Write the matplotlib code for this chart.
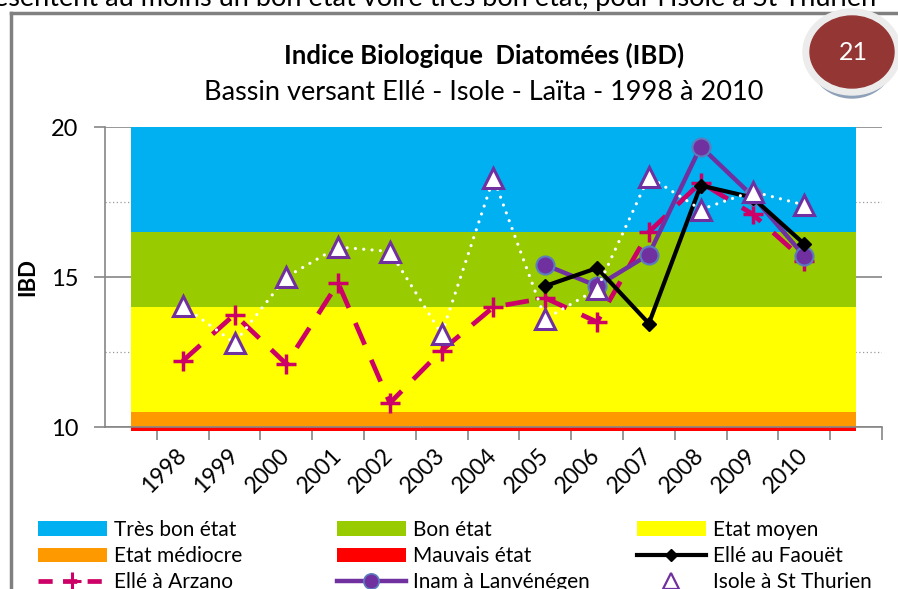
import matplotlib
matplotlib.use("Agg")
import matplotlib.pyplot as plt
from matplotlib.patches import Patch, Ellipse
from matplotlib.lines import Line2D
import numpy as np

plt.rcParams['font.family'] = ['Lato', 'DejaVu Sans']

# ---- data ----
years = ['1998', '1999', '2000', '2001', '2002', '2003', '2004',
         '2005', '2006', '2007', '2008', '2009', '2010']
faouet_years = ['2005', '2006', '2007', '2008', '2009', '2010']
faouet = [14.7, 15.3, 13.45, 18.05, 17.65, 16.1]
arzano = [12.2, 13.75, 12.1, 14.8, 10.8, 12.55, 14.0, 14.3, 13.5, 16.5, 18.15, 17.1, 15.55]
inam_years = ['2005', '2006', '2007', '2008', '2009', '2010']
inam = [15.4, 14.7, 15.75, 19.35, 17.7, 15.7]
isole = [14.05, 12.8, 15.0, 16.0, 15.85, 13.1, 18.3, 13.6, 14.6, 18.35, 17.25, 17.85, 17.4]

band_labels = ['Très bon état', 'Bon état', 'Etat moyen', 'Etat médiocre', 'Mauvais état']
band_low = [16.5, 14.0, 10.5, 10.0, 9.88]
band_high = [20.0, 16.5, 14.0, 10.5, 10.0]
band_colors = ['#00B0F0', '#99CC00', '#FFFF00', '#FF9900', '#FF0000']

title = 'Indice Biologique  Diatomées (IBD)'
subtitle = 'Bassin versant Ellé - Isole - Laïta - 1998 à 2010'
top_text = "ésentent au moins un bon état voire très bon état, pour l'Isole à St Thurien"

W, H = 898, 589
fig = plt.figure(figsize=(W / 100, H / 100), dpi=100)

def fx(px):
    return px / W

def fy(py):
    return 1 - py / H

ax = fig.add_axes([fx(105), fy(427), fx(882) - fx(105), fy(127) - fy(427)])
ax.set_xlim(-1.5, 13.5)
ax.set_ylim(10, 20)

idx = {y: i for i, y in enumerate(years)}
x_all = np.array([idx[y] for y in years])
x_f = np.array([idx[y] for y in faouet_years])
x_i = np.array([idx[y] for y in inam_years])

# bands
for lo, hi, c in zip(band_low, band_high, band_colors):
    ax.fill_between([-1, 13], [lo, lo], [hi, hi], color=c, lw=0, zorder=1, clip_on=False)

# grid
ax.set_axisbelow(True)
ax.set_yticks([10, 15, 20])
ax.set_yticks([12.5, 17.5], minor=True)
ax.grid(axis='y', which='major', color='#868686', lw=1.2, ls='-')
ax.grid(axis='y', which='minor', color='#9a9a9a', lw=0.9, ls=(0, (1, 2)))
ax.tick_params(axis='y', which='major', length=8, width=1.2, color='#868686',
               labelsize=17, pad=11)
ax.tick_params(axis='y', which='minor', length=0)

ax.set_xticks(x_all)
ax.set_xticklabels(years)
ax.set_xticks(list(np.arange(-0.5, 13.0, 1.0)) + [13.5], minor=True)
ax.tick_params(axis='x', which='major', length=0, labelsize=16.5, pad=18)
ax.tick_params(axis='x', which='minor', length=9, width=1.2, color='#868686')
for lab in ax.get_xticklabels():
    lab.set_rotation(45)
    lab.set_ha('right')
    lab.set_va('center')
    lab.set_rotation_mode('anchor')

for s in ['top', 'right']:
    ax.spines[s].set_visible(False)
for s in ['left', 'bottom']:
    ax.spines[s].set_color('#868686')
    ax.spines[s].set_linewidth(1.2)

ax.set_ylabel('IBD', fontsize=16, fontweight='bold', labelpad=9)

# series
purple = '#7030A0'
crimson = '#CC0066'
l_arz, = ax.plot(x_all, arzano, color=crimson, lw=3.4, ls=(0, (5, 3.5)),
                 marker='+', ms=15, mew=2.5, zorder=3, label='Ellé à Arzano')
l_inam, = ax.plot(x_i, inam, color=purple, lw=3.2, marker='o', ms=13,
                  mfc=purple, mec='#5B7DBE', mew=1.5, zorder=4, label='Inam à Lanvénégen')
l_fao, = ax.plot(x_f, faouet, color='black', lw=3.0, marker='D', ms=7,
                 zorder=5, label='Ellé au Faouët')
ax.plot(x_all, isole, color='white', lw=2.3, ls=(0, (0.01, 2.6)),
        dash_capstyle='round', zorder=6)
l_iso, = ax.plot(x_all, isole, ls='none', marker='^', ms=15, mfc='white',
                 mec=purple, mew=2.2, zorder=7, label='Isole à St Thurien')

# titles
fig.text(fx(484), fy(55), title, ha='center', va='center', fontsize=18.5, fontweight='bold')
fig.text(fx(484), fy(93), subtitle, ha='center', va='center', fontsize=19.5)
fig.text(fx(-6), fy(6), top_text, ha='left', va='baseline', fontsize=19.5)

# chart frame
fig.add_artist(Line2D([fx(11), fx(11)], [fy(13), 0], color='#808080', lw=2.5))
fig.add_artist(Line2D([fx(11), 1], [fy(13), fy(13)], color='#808080', lw=2.5))

# badge
cx, cy = 852, 52
fig.add_artist(Ellipse((fx(cx), fy(cy + 7)), fx(84), 78 / H, color='#8DA0B8', zorder=5))
fig.add_artist(Ellipse((fx(cx), fy(cy)), fx(98), 86 / H, color='#ECECEC', zorder=6))
fig.add_artist(Ellipse((fx(cx), fy(cy)), fx(84), 72 / H, color='#943634', zorder=7))
fig.text(fx(cx + 1), fy(cy + 1), '21', color='white', fontsize=18, ha='center', va='center', zorder=8)

# legend (three columns)
band_handles = [Patch(facecolor=c, edgecolor='none', label=l) for c, l in zip(band_colors, band_labels)]
l_arz_h = Line2D([], [], color=crimson, lw=3.4, ls=(0, (3, 2.2)), marker='+', ms=13, mew=2.2)
l_inam_h = Line2D([], [], color=purple, lw=3.2, marker='o', ms=11, mfc=purple, mec='#5B7DBE', mew=1.2)
l_fao_h = Line2D([], [], color='black', lw=3.0, marker='D', ms=6)
l_iso_h = Line2D([], [], ls='none', marker='^', ms=12, mfc='white', mec=purple, mew=1.6)
cols = [
    [band_handles[0], band_handles[3], l_arz_h],
    [band_handles[1], band_handles[4], l_inam_h],
    [band_handles[2], l_fao_h, l_iso_h],
]
col_labels = [
    [band_labels[0], band_labels[3], 'Ellé à Arzano'],
    [band_labels[1], band_labels[4], 'Inam à Lanvénégen'],
    [band_labels[2], 'Ellé au Faouët', 'Isole à St Thurien'],
]
col_x = [38, 337, 637]
for hs, ls_, x in zip(cols, col_labels, col_x):
    fig.legend(handles=hs, labels=ls_, loc='upper left', bbox_to_anchor=(fx(x), fy(520)),
               frameon=False, fontsize=15, handlelength=3.3, handleheight=0.7,
               handletextpad=0.35, labelspacing=0.3, borderaxespad=0, borderpad=0)

fig.savefig('out.png', dpi=100)
